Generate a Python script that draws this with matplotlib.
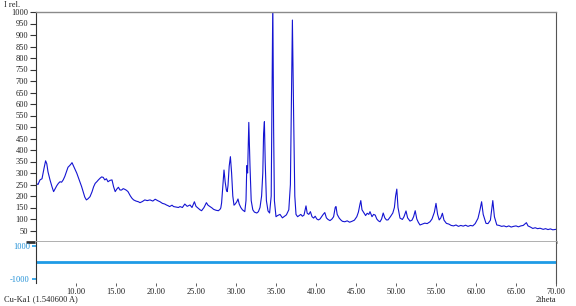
import matplotlib
matplotlib.use("Agg")
import matplotlib.pyplot as plt
import numpy as np

# ---- data ----
two_theta = [
    5.0, 5.25, 5.5, 5.75, 6.0, 6.2, 6.35, 6.5, 6.75, 7.0, 7.2, 7.4, 7.6, 7.8, 8.0, 8.2, 8.4, 8.6, 8.8,
    9.0, 9.2, 9.4, 9.5, 9.7, 9.9, 10.1, 10.3, 10.5, 10.7, 10.9, 11.1, 11.3, 11.5, 11.75, 12.0, 12.2,
    12.4, 12.6, 12.8, 13.0, 13.2, 13.4, 13.6, 13.8, 14.0, 14.25, 14.5, 14.7, 14.9, 15.1, 15.3, 15.5,
    15.7, 15.9, 16.1, 16.3, 16.5, 16.8, 17.0, 17.2, 17.5, 17.8, 18.0, 18.3, 18.6, 18.9, 19.25, 19.6,
    19.9, 20.2, 20.5, 20.8, 21.1, 21.3, 21.5, 21.7, 22.0, 22.2, 22.5, 22.8, 23.0, 23.3, 23.6, 23.9,
    24.25, 24.5, 24.8, 25.0, 25.3, 25.5, 25.7, 26.0, 26.3, 26.5, 26.75, 27.0, 27.2, 27.5, 27.8, 28.0,
    28.1, 28.2, 28.35, 28.5, 28.65, 28.8, 28.9, 29.0, 29.15, 29.3, 29.45, 29.6, 29.75, 29.9, 30.1,
    30.25, 30.4, 30.6, 30.8, 31.0, 31.1, 31.25, 31.35, 31.45, 31.6, 31.75, 31.9, 32.1, 32.3, 32.6,
    32.8, 33.0, 33.2, 33.35, 33.45, 33.55, 33.65, 33.8, 34.0, 34.2, 34.4, 34.5, 34.6, 34.7, 34.8,
    35.0, 35.2, 35.5, 35.8, 36.0, 36.3, 36.6, 36.8, 36.9, 37.05, 37.2, 37.35, 37.5, 37.7, 37.9,
    38.1, 38.3, 38.5, 38.75, 38.9, 39.1, 39.3, 39.5, 39.7, 39.9, 40.1, 40.3, 40.5, 40.7, 40.9, 41.1,
    41.3, 41.5, 41.75, 42.0, 42.2, 42.4, 42.5, 42.65, 42.9, 43.1, 43.3, 43.6, 43.9, 44.2, 44.5, 44.8,
    45.1, 45.3, 45.5, 45.6, 45.75, 46.0, 46.2, 46.4, 46.6, 46.75, 47.0, 47.2, 47.4, 47.6, 47.8, 48.0,
    48.2, 48.4, 48.6, 48.8, 49.0, 49.3, 49.6, 49.8, 49.95, 50.1, 50.25, 50.5, 50.8, 51.0, 51.25,
    51.45, 51.75, 52.0, 52.2, 52.4, 52.6, 52.8, 53.0, 53.3, 53.6, 53.9, 54.25, 54.5, 54.8, 55.0,
    55.2, 55.4, 55.6, 55.8, 56.0, 56.3, 56.6, 56.9, 57.2, 57.5, 57.8, 58.1, 58.4, 58.7, 59.0, 59.3,
    59.6, 59.9, 60.25, 60.5, 60.7, 60.9, 61.25, 61.5, 61.8, 62.0, 62.1, 62.3, 62.6, 62.9, 63.2, 63.5,
    63.8, 64.1, 64.4, 64.7, 65.0, 65.3, 65.6, 65.9, 66.1, 66.3, 66.5, 66.8, 67.1, 67.4, 67.7, 68.0,
    68.4, 68.7, 69.0, 69.3, 69.6, 70.0,
]
intensity = [
    255, 250, 270, 275, 320, 353, 340, 305, 270, 240, 219, 232, 245, 255, 262, 260, 270, 285, 305,
    325, 332, 340, 345, 330, 315, 299, 280, 262, 241, 218, 195, 183, 188, 197, 218, 240,
    255, 262, 270, 277, 283, 281, 270, 275, 262, 268, 270, 240, 219, 230, 238, 226,
    226, 232, 229, 225, 219, 200, 190, 183, 178, 175, 171, 176, 183, 180, 183, 178,
    186, 180, 175, 168, 165, 161, 158, 154, 160, 154, 152, 150, 154, 150, 165, 155,
    161, 150, 175, 155, 146, 140, 136, 150, 171, 160, 154, 148, 142, 138, 136, 142,
    148, 170, 240, 313, 260, 225, 219, 245, 330, 371, 300, 200, 160, 165, 175,
    187, 165, 150, 140, 135, 132, 180, 332, 300, 520, 330, 180, 140, 130, 126,
    132, 150, 200, 300, 473, 523, 350, 180, 135, 126, 200, 600, 1050, 500, 180,
    110, 115, 120, 105, 110, 118, 140, 250, 552, 965, 560, 200, 120, 110, 115,
    120, 112, 117, 157, 125, 120, 132, 110, 104, 112, 100, 96, 100, 110, 120, 128,
    105, 98, 93, 100, 110, 150, 154, 120, 104, 96, 90, 88, 92, 86, 90, 95,
    110, 130, 165, 180, 140, 126, 115, 125, 120, 132, 110, 120, 117, 100, 92, 88,
    100, 126, 105, 96, 96, 110, 126, 150, 200, 230, 150, 104, 98, 110, 135,
    105, 91, 95, 110, 136, 100, 85, 74, 78, 82, 80, 88, 100, 130, 168,
    120, 96, 105, 125, 95, 81, 78, 72, 70, 74, 68, 72, 69, 73, 68, 72,
    70, 80, 103, 140, 175, 120, 81, 80, 95, 150, 180, 110, 74, 72, 68, 70,
    66, 70, 65, 68, 70, 66, 70, 72, 78, 84, 70, 65, 59, 62, 58, 60,
    55, 58, 54, 57, 53, 55,
]
x_ticks = [10, 15, 20, 25, 30, 35, 40, 45, 50, 55, 60, 65, 70]
y_ticks = list(range(0, 1001, 50))
diff_ticks = [-1000, 1000]
diff_level = 0

W, H = 576, 306
fig = plt.figure(figsize=(W / 100, H / 100), dpi=100)
serif = ["Liberation Serif", "DejaVu Serif"]
fs = 6.0

L, R = 36 / W, 556 / W
top_main, bot_main = 1 - 12 / H, 1 - 242 / H
bot_low = 1 - 283 / H

ax = fig.add_axes([L, bot_main, R - L, top_main - bot_main])
axd = fig.add_axes([L, bot_low, R - L, bot_main - bot_low], sharex=ax)

ax.plot(two_theta, intensity, color="#1414d2", lw=0.8, clip_on=True)
ax.set_xlim(5, 70)
ax.set_ylim(0, 1000)

ax.spines["top"].set_color("#8a8a8a")
ax.spines["top"].set_linewidth(1.0)
ax.spines["right"].set_color("#555555")
ax.spines["left"].set_color("#333333")
ax.spines["bottom"].set_color("#a8a8a8")
ax.spines["bottom"].set_linewidth(2.0)

ax.set_yticks(y_ticks)
ax.set_yticklabels(["" if v == 0 else str(v) for v in y_ticks], fontfamily=serif, fontsize=fs)
ax.tick_params(axis="y", length=4, width=0.8, color="#333333", pad=1.5, labelcolor="#222222")
ax.tick_params(axis="x", bottom=False, labelbottom=False)
t0 = ax.yaxis.get_major_ticks()[0]
t0.tick1line.set_color("#c0392b")
t0.tick1line.set_markersize(7)
t0.tick1line.set_markeredgewidth(2)

axd.axhline(diff_level, color="#1e9be6", lw=2.0)
axd.set_ylim(-1240, 1220)
axd.set_yticks(diff_ticks)
axd.set_yticklabels([str(v) for v in diff_ticks], fontfamily=serif, fontsize=fs)
axd.tick_params(axis="y", length=3, width=1.2, color="#1e9be6", labelcolor="#1e8fd6", pad=1.5)
axd.spines["top"].set_visible(False)
axd.spines["bottom"].set_visible(False)
axd.spines["left"].set_color("#333333")
axd.spines["right"].set_color("#555555")
axd.set_xticks(x_ticks)
axd.set_xticklabels([f"{v:.2f}" for v in x_ticks], fontfamily=serif, fontsize=fs)
axd.tick_params(axis="x", length=2.5, width=0.6, color="#444444", pad=1.0, labelcolor="#222222")

fig.text(4 / W, 1 - 5 / H, "I rel.", fontfamily=serif, fontsize=fs, va="center", ha="left", color="#222222")
fig.text(4 / W, 1 - 299 / H, "Cu-Ka1 (1.540600 A)", fontfamily=serif, fontsize=fs, va="center", ha="left", color="#222222")
fig.text(556 / W, 1 - 300 / H, "2theta", fontfamily=serif, fontsize=fs, va="center", ha="right", color="#222222")

fig.savefig("out.png", dpi=100)
